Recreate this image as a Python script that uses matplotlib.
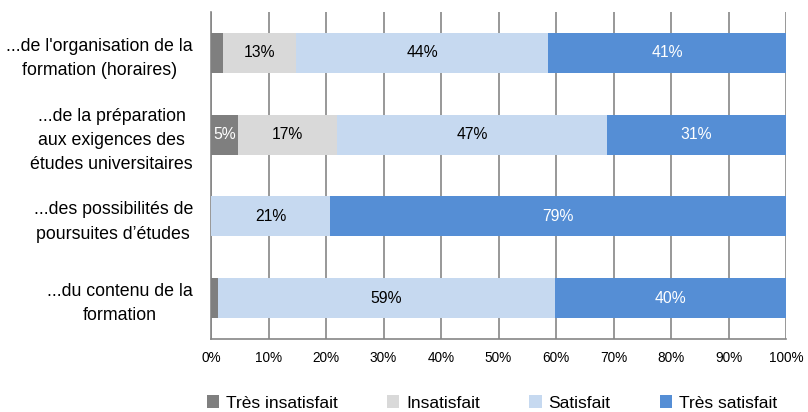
import matplotlib
matplotlib.use("Agg")
import matplotlib.pyplot as plt
import numpy as np

plt.rcParams['font.family'] = ['Liberation Sans', 'DejaVu Sans']

categories = ["...de l'organisation de la\nformation (horaires)",
              "...de la préparation\naux exigences des\nétudes universitaires",
              "...des possibilités de\npoursuites d\u2019études",
              "...du contenu de la\nformation"]
series = ["Très insatisfait", "Insatisfait", "Satisfait", "Très satisfait"]
tres_insatisfait = [2.0, 4.7, 0, 1.2]
insatisfait = [12.8, 17.2, 0, 0]
satisfait = [43.8, 47.0, 20.7, 58.6]
tres_satisfait = [41.4, 31.1, 79.3, 40.2]
values = [tres_insatisfait, insatisfait, satisfait, tres_satisfait]
colors = ["#7f7f7f", "#d9d9d9", "#c6d9f0", "#558ed5"]
text_colors = ["white", "black", "black", "white"]
xticks = [0, 10, 20, 30, 40, 50, 60, 70, 80, 90, 100]

fig = plt.figure(figsize=(8.08, 4.12), dpi=100)
ax = fig.add_axes([211/808, 1-339/412, (786-211)/808, (339-12)/412])

y = np.arange(len(categories))
left = np.zeros(len(categories))
for vals, c, tc, name in zip(values, colors, text_colors, series):
    vals = np.array(vals, dtype=float)
    ax.barh(y, vals, left=left, height=0.49, color=c, label=name, zorder=3)
    for yi, (l, v) in enumerate(zip(left, vals)):
        if v >= 4.5:
            ax.text(l + v/2, yi, f"{int(v + 0.5)}%", ha="center", va="center",
                    color=tc, fontsize=11.3, zorder=4)
    left += vals

ax.set_xlim(0, 100)
ax.set_ylim(len(categories)-0.5, -0.5)
ax.set_yticks(y)
ax.set_yticklabels(categories, fontsize=12.8, ha="right", multialignment="center",
                   linespacing=1.55)
ax.tick_params(axis="y", length=0, pad=13)
ax.set_xticks(xticks)
ax.set_xticklabels([f"{t}%" for t in xticks], fontsize=9.8)
ax.tick_params(axis="x", length=0, pad=9)
ax.grid(axis="x", color="#868686", linewidth=1.2, zorder=0)
for s in ["top", "right"]:
    ax.spines[s].set_visible(False)
for s in ["left", "bottom"]:
    ax.spines[s].set_color("#868686")
    ax.spines[s].set_linewidth(1.2)

leg = fig.legend(loc="center", bbox_to_anchor=(0.609, 1-403/412), ncol=4, frameon=False,
                 fontsize=12.5, handlelength=0.7, handleheight=0.7, handletextpad=0.4,
                 columnspacing=2.85)

fig.savefig("out.png", dpi=100)
